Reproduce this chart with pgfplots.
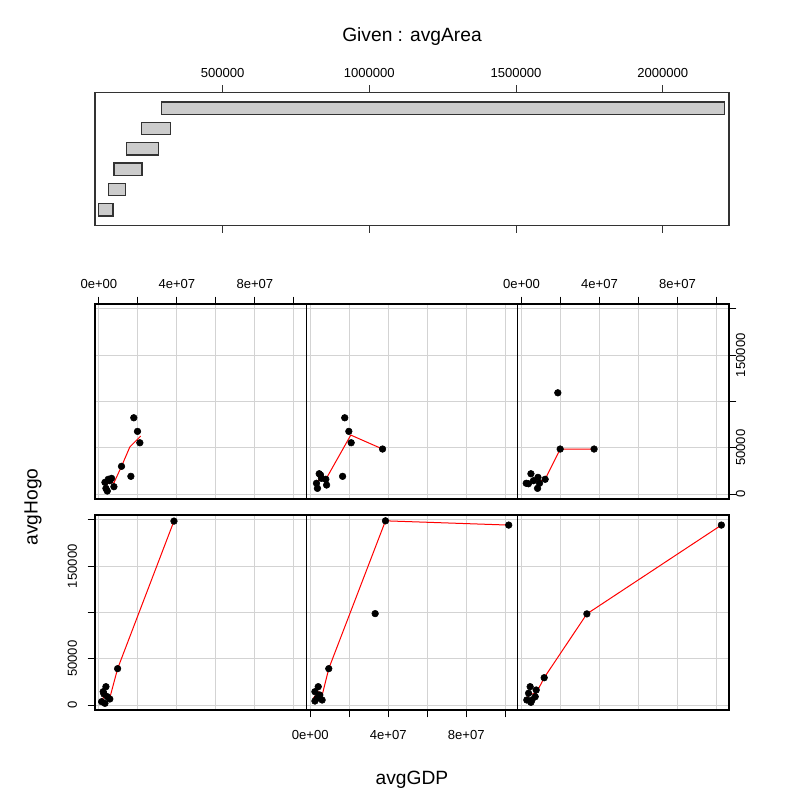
\documentclass[border=0pt]{standalone}
\usepackage{fontspec}
\setmainfont{Liberation Sans}
\usepackage{pgfplots}
\usepackage{pgfplotstable}
\pgfplotsset{compat=1.18}

\definecolor{gridgray}{RGB}{211,211,211}
\definecolor{barfill}{RGB}{204,204,204}

% conditioning intervals of avgArea
\pgfplotstableread{
i lo hi
1 77700 126400
2 111800 169700
3 129900 225300
4 171800 280800
5 222900 323100
6 291100 2210000
}\givenint

\pgfplotsset{
  panel/.style={scale only axis, anchor=south west, width=158.5pt, height=146.25pt,
    xmin=-2e6, xmax=1.064e8, ymin=-5400, ymax=205400, scaled ticks=false,
    xtick={0,2e7,4e7,6e7,8e7,1e8}, ytick={0,50000,100000,150000,200000},
    xticklabels={0e+00,,4e+07,,8e+07,}, yticklabels={0,50000,,150000,},
    grid=major, major grid style={gridgray, line width=0.75pt},
    axis line style={line width=0.8pt},
    tick style={black, line width=0.75pt}, tick align=outside, major tick length=5.5pt,
    ticklabel style={font=\fontsize{9.8}{11}\selectfont}},
  top labels/.style={xtick pos=upper, xticklabel pos=upper, xticklabel style={yshift=2.25pt}},
  pts/.style={only marks, mark=*, mark size=2.5pt, black},
  fit/.style={red, line width=0.75pt, no marks},
}

\begin{document}
\begin{tikzpicture}
\path[use as bounding box] (0,0) rectangle (590.25pt,595.5pt);

% given panel
\begin{axis}[scale only axis, anchor=south west, at={(71.25pt,426.5pt)},
    width=475.5pt, height=99.45pt, scaled ticks=false,
    xmin=65000, xmax=2226000, ymin=0.24, ymax=6.76,
    xbar stacked, bar width=0.6,
    xtick={500000,1000000,1500000,2000000},
    xticklabels={500000,1000000,1500000,2000000},
    xtick pos=both, xticklabel pos=upper, ymajorticks=false,
    xticklabel style={yshift=2.25pt},
    axis line style={line width=0.8pt, black!80},
    tick style={black!80, line width=0.75pt}, tick align=outside, major tick length=5.5pt,
    ticklabel style={font=\fontsize{9.8}{11}\selectfont}]
\addplot[draw=none, fill=none] table[x=lo, y=i] {\givenint};
\addplot[fill=barfill, draw=black!80, line width=0.9pt] table[x expr=\thisrow{hi}-\thisrow{lo}, y=i] {\givenint};
\end{axis}

% top-left
\begin{axis}[panel, at={(71.25pt,221.25pt)}, top labels, ymajorticks=false]
\addplot[pts] coordinates {(17.9e6,82400) (19.8e6,67700) (21.0e6,55400) (11.6e6,29900) (16.4e6,19100)
  (3.1e6,12600) (4.8e6,15900) (6.5e6,16900) (7.7e6,7900) (4.3e6,3200) (3.6e6,6100) (5.6e6,14400)};
\addplot[fit] coordinates {(3.1e6,9000) (5.5e6,12500) (7.7e6,12000) (11.6e6,29900) (15.9e6,51000) (21.4e6,62600)};
\end{axis}

% top-middle
\begin{axis}[panel, at={(229.75pt,221.25pt)}, xmajorticks=false, ymajorticks=false]
\addplot[pts] coordinates {(17.7e6,82400) (19.8e6,67700) (21.0e6,55400) (37.1e6,48600) (16.6e6,19100)
  (4.6e6,21900) (3.2e6,11600) (3.7e6,6100) (8.0e6,15900) (8.4e6,9700) (5.8e6,16900) (5.3e6,20500)};
\addplot[fit] coordinates {(2.9e6,9700) (5.3e6,18700) (7.5e6,14000) (20.8e6,63700) (37.1e6,48600)};
\end{axis}

% top-right
\begin{axis}[panel, at={(388.25pt,221.25pt)}, top labels,
    ytick pos=right, yticklabel pos=right, yticklabel style={rotate=90, anchor=north, yshift=3.75pt}]
\addplot[pts] coordinates {(18.6e6,109400) (19.8e6,48600) (37.2e6,48600) (4.8e6,21900) (3.5e6,11100)
  (8.4e6,18000) (12.1e6,15900) (8.2e6,6100) (6.1e6,14400) (2.4e6,11600) (9.2e6,11600)};
\addplot[fit] coordinates {(3.0e6,11100) (5.5e6,14500) (8.7e6,13300) (12.1e6,15900) (19.8e6,48600) (37.2e6,48600)};
\end{axis}

% bottom-left
\begin{axis}[panel, at={(71.25pt,63pt)}, xmajorticks=false,
    ytick pos=left, yticklabel pos=left, yticklabel style={rotate=90, anchor=south, yshift=4.5pt}]
\addplot[pts] coordinates {(38.5e6,198800) (9.6e6,39300) (3.6e6,19800) (2.2e6,14400) (1.4e6,3600)
  (3.1e6,1800) (5.6e6,6500) (4.3e6,9000) (2.6e6,11900)};
\addplot[fit] coordinates {(1.9e6,6500) (3.6e6,12700) (5.3e6,5400) (9.6e6,39300) (38.5e6,198800)};
\end{axis}

% bottom-middle
\begin{axis}[panel, at={(229.75pt,63pt)}, xtick pos=lower, xticklabel pos=lower,
    xticklabel style={yshift=-6pt}, ymajorticks=false]
\addplot[pts] coordinates {(38.6e6,199100) (101.8e6,194500) (33.3e6,98800) (9.5e6,39300)
  (2.4e6,4300) (2.4e6,14400) (4.1e6,19800) (4.9e6,10800) (6.1e6,5400) (3.5e6,7200)};
\addplot[fit] coordinates {(1.5e6,7200) (4.4e6,14400) (5.8e6,7900) (9.5e6,39300) (38.6e6,199100) (101.8e6,194500)};
\end{axis}

% bottom-right
\begin{axis}[panel, at={(388.25pt,63pt)}, xmajorticks=false, ymajorticks=false]
\addplot[pts] coordinates {(102.5e6,194500) (33.5e6,98500) (11.6e6,29500) (4.4e6,19800) (3.6e6,12700)
  (5.3e6,5400) (7.0e6,9000) (7.5e6,16200) (2.7e6,5400) (4.8e6,2900)};
\addplot[fit] coordinates {(2.4e6,7200) (4.4e6,11600) (7.5e6,12700) (11.6e6,29500) (33.5e6,98500) (102.5e6,194500)};
\end{axis}

\node[font=\fontsize{14.4}{16}\selectfont] at (309pt,567.75pt) {Given : avgArea};
\node[font=\fontsize{14.4}{16}\selectfont] at (309pt,10.5pt) {avgGDP};
\node[rotate=90, font=\fontsize{14.4}{16}\selectfont] at (24.75pt,215.25pt) {avgHogo};
\end{tikzpicture}
\end{document}
